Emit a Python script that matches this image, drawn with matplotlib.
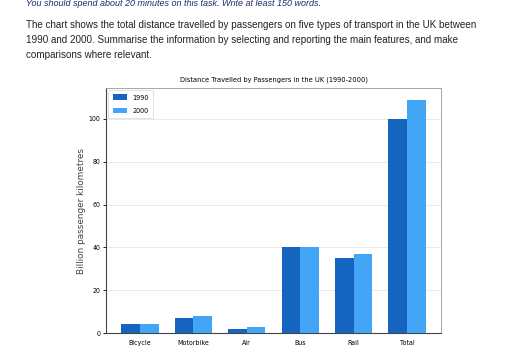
import matplotlib
matplotlib.use("Agg")
import matplotlib.pyplot as plt
import numpy as np

categories = ["Bicycle", "Motorbike", "Air", "Bus", "Rail", "Total"]
values_1990 = [4, 7, 2, 40, 35, 100]
values_2000 = [4, 8, 3, 40, 37, 109]
series_labels = ["1990", "2000"]
yticks = [0, 20, 40, 60, 80, 100]

title = "Distance Travelled by Passengers in the UK (1990-2000)"
ylabel = "Billion passenger kilometres"
intro_line = "You should spend about 20 minutes on this task. Write at least 150 words."
task_lines = [
    "The chart shows the total distance travelled by passengers on five types of transport in the UK between",
    "1990 and 2000. Summarise the information by selecting and reporting the main features, and make",
    "comparisons where relevant.",
]

W, H = 512, 357
fig = plt.figure(figsize=(W / 100, H / 100), dpi=100)

fig.text(26 / W, 1 - 4 / H, intro_line, fontsize=6.5, style="italic", color="#1f2a6b",
         family="Liberation Sans", va="center", ha="left")
for i, line in enumerate(task_lines):
    fig.text(26 / W, 1 - (25 + 15 * i) / H, line, fontsize=7.15, color="#222222",
             family="Liberation Sans", va="center", ha="left")

ax = fig.add_axes([106 / W, 1 - 333 / H, (441 - 106) / W, (333 - 88) / H])
x = np.arange(len(categories))
w = 0.35
ax.bar(x - w / 2, values_1990, w, color="#1565C0", label=series_labels[0], zorder=3)
ax.bar(x + w / 2, values_2000, w, color="#42A5F5", label=series_labels[1], zorder=3)

ax.set_xticks(x)
ax.set_xticklabels(categories, fontsize=5.0, fontstretch="condensed")
ax.set_yticks(yticks)
ax.set_yticklabels([str(t) for t in yticks], fontsize=5.0, fontstretch="condensed")
ax.tick_params(axis="y", length=2.5, width=0.6, pad=1.5)
ax.tick_params(axis="x", length=0, pad=5)
ax.set_ylabel(ylabel, fontsize=6.4, labelpad=2, color="#444444")
ax.set_title(title, fontsize=5.35, pad=5, fontstretch="condensed")
ax.set_ylim(bottom=0)
ax.grid(axis="y", color="#e6e6e6", linewidth=0.6, zorder=0)
ax.set_axisbelow(True)
for s in ["left", "bottom"]:
    ax.spines[s].set_color("#444444")
    ax.spines[s].set_linewidth(0.8)
for s in ["top", "right"]:
    ax.spines[s].set_color("#999999")
    ax.spines[s].set_linewidth(0.6)

leg = ax.legend(loc="upper left", handlelength=2.0, handleheight=0.7,
                borderpad=0.6, labelspacing=1.0, frameon=True, fancybox=True,
                borderaxespad=0.3, prop={"size": 5.2, "stretch": "condensed"})
leg.get_frame().set_linewidth(0.5)

fig.savefig("out.png", dpi=100)
